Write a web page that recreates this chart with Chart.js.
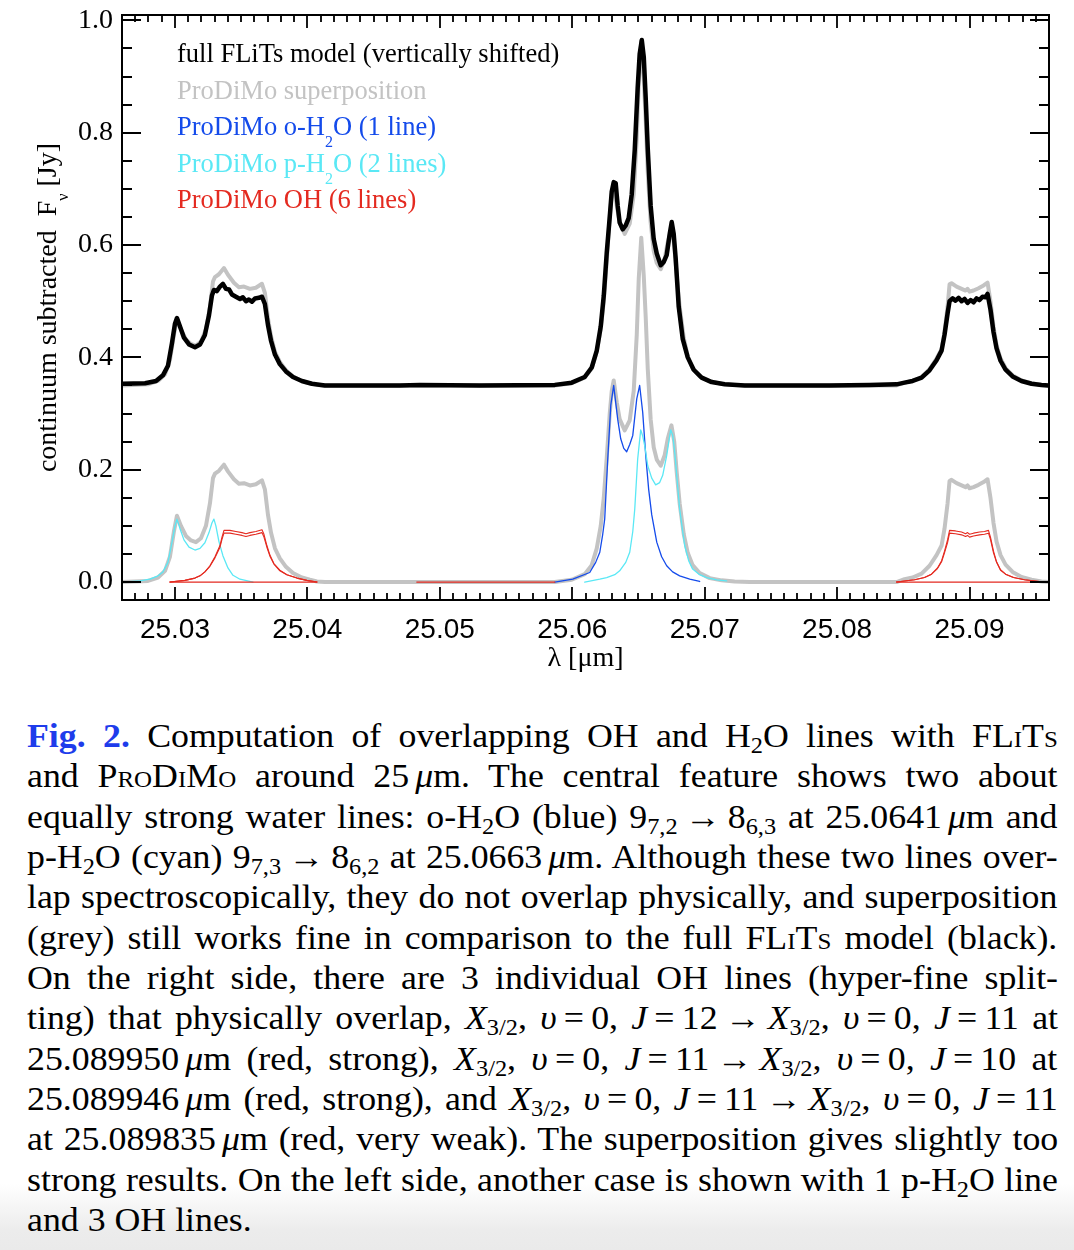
<!DOCTYPE html>
<html lang="en">
<head>
<meta charset="UTF-8" />
<title>Fig. 2 - overlapping OH and H2O lines</title>
<script src="https://cdn.jsdelivr.net/npm/chart.js"></script>
<style>
  html, body { margin: 0; padding: 0; background: #fff; }
  body { width: 1074px; height: 1250px; position: relative; overflow: hidden; }
  #shade { position: absolute; left: 0; right: 0; bottom: 0; height: 66px;
           background: linear-gradient(to bottom, rgba(235,235,235,0), #ececec 70%, #eaeaea); }
  #plot { position: absolute; left: 0; top: 0; }
  /* the printed caption is slightly wider than plain Times, hence the scaleX */
  #caption { position: absolute; left: 27px; top: 716px; width: 950px;
             transform: scaleX(1.085); transform-origin: 0 0;
             font-family: "Liberation Serif", "Times New Roman", serif;
             font-size: 33px; line-height: 40.33px; color: #000; }
  .ln { white-space: nowrap; height: 40.33px; }
  .ln > span { display: inline-block; }
  .fig { color: #1e3ceb; font-weight: bold; }
  .sc { font-variant: small-caps; }
  sub { font-size: 68%; vertical-align: -0.28em; line-height: 0; }
  .rel { padding: 0 0.2em; }
  .th { padding-left: 0.17em; }
</style>
</head>
<body>
<div id="shade"></div>
<canvas id="plot" width="1074" height="690"></canvas>

<div id="caption">
<div class="ln"><span><b class="fig">Fig. 2.</b> Computation of overlapping OH and H<sub>2</sub>O lines with <span class="sc">FLiTs</span></span></div>
<div class="ln"><span>and <span class="sc">ProDiMo</span> around 25<span class="th"></span><i>μ</i>m. The central feature shows two about</span></div>
<div class="ln"><span>equally strong water lines: o-H<sub>2</sub>O (blue) 9<sub>7,2</sub><span class="rel">→</span>8<sub>6,3</sub> at 25.0641<span class="th"></span><i>μ</i>m and</span></div>
<div class="ln"><span>p-H<sub>2</sub>O (cyan) 9<sub>7,3</sub><span class="rel">→</span>8<sub>6,2</sub> at 25.0663<span class="th"></span><i>μ</i>m. Although these two lines over-</span></div>
<div class="ln"><span>lap spectroscopically, they do not overlap physically, and superposition</span></div>
<div class="ln"><span>(grey) still works fine in comparison to the full <span class="sc">FLiTs</span> model (black).</span></div>
<div class="ln"><span>On the right side, there are 3 individual OH lines (hyper-fine split-</span></div>
<div class="ln"><span>ting) that physically overlap, <i>X</i><sub>3/2</sub>, <i>υ</i><span class="rel">=</span>0, <i>J</i><span class="rel">=</span>12<span class="rel">→</span><i>X</i><sub>3/2</sub>, <i>υ</i><span class="rel">=</span>0, <i>J</i><span class="rel">=</span>11 at</span></div>
<div class="ln"><span>25.089950<span class="th"></span><i>μ</i>m (red, strong), <i>X</i><sub>3/2</sub>, <i>υ</i><span class="rel">=</span>0, <i>J</i><span class="rel">=</span>11<span class="rel">→</span><i>X</i><sub>3/2</sub>, <i>υ</i><span class="rel">=</span>0, <i>J</i><span class="rel">=</span>10 at</span></div>
<div class="ln"><span>25.089946<span class="th"></span><i>μ</i>m (red, strong), and <i>X</i><sub>3/2</sub>, <i>υ</i><span class="rel">=</span>0, <i>J</i><span class="rel">=</span>11<span class="rel">→</span><i>X</i><sub>3/2</sub>, <i>υ</i><span class="rel">=</span>0, <i>J</i><span class="rel">=</span>11</span></div>
<div class="ln"><span>at 25.089835<span class="th"></span><i>μ</i>m (red, very weak). The superposition gives slightly too</span></div>
<div class="ln"><span>strong results. On the left side, another case is shown with 1 p-H<sub>2</sub>O line</span></div>
<div class="ln last"><span>and 3 OH lines.</span></div>
</div>

<script>
// axes
const xRange = [25.0260, 25.0960];
const yRange = [-0.032, 1.0096];
const xTicks = [25.03, 25.04, 25.05, 25.06, 25.07, 25.08, 25.09];
const yTicks = [0.0, 0.2, 0.4, 0.6, 0.8, 1.0];
const xMinor = 0.001;
const yMinor = 0.05;
const shift = 0.35;   // FLiTs model and its comparison curve are moved up by this

// ProDiMo superposition (grey)
const greyWl = [25.02600, 25.02796, 25.02872, 25.02925, 25.02962, 25.02992, 25.03015, 25.03045, 25.03083, 25.03121,
  25.03158, 25.03196, 25.03234, 25.03264, 25.03287, 25.03302, 25.03332, 25.03370, 25.03400, 25.03445,
  25.03483, 25.03521, 25.03566, 25.03611, 25.03657, 25.03679, 25.03702, 25.03725, 25.03755, 25.03792,
  25.03838, 25.03891, 25.03958, 25.04019, 25.04072, 25.04132,
  25.05868, 25.05996, 25.06094, 25.06147, 25.06185, 25.06215, 25.06238, 25.06260, 25.06283, 25.06298,
  25.06313, 25.06336, 25.06358, 25.06396, 25.06434, 25.06464, 25.06487, 25.06502, 25.06521, 25.06540,
  25.06555, 25.06570, 25.06592, 25.06615, 25.06638, 25.06668, 25.06698, 25.06721, 25.06749, 25.06770,
  25.06789, 25.06811, 25.06842, 25.06872, 25.06909, 25.06962, 25.07038, 25.07128, 25.07226, 25.07340,
  25.08449, 25.08509, 25.08570, 25.08638, 25.08698, 25.08751, 25.08789, 25.08811, 25.08834, 25.08849,
  25.08864, 25.08902, 25.08940, 25.08970, 25.08985, 25.09000, 25.09030, 25.09068, 25.09106, 25.09136,
  25.09158, 25.09181, 25.09204, 25.09234, 25.09272, 25.09325, 25.09392, 25.09468, 25.09543, 25.09596];
const greyFl = [0.000, 0.002, 0.008, 0.020, 0.045, 0.090, 0.118, 0.100, 0.082, 0.074,
  0.071, 0.078, 0.100, 0.140, 0.185, 0.193, 0.198, 0.209, 0.197, 0.183,
  0.175, 0.176, 0.172, 0.174, 0.181, 0.165, 0.120, 0.088, 0.060, 0.042,
  0.027, 0.016, 0.008, 0.004, 0.001, 0.000,
  0.000, 0.004, 0.014, 0.030, 0.060, 0.100, 0.150, 0.220, 0.300, 0.340,
  0.359, 0.320, 0.290, 0.270, 0.288, 0.340, 0.440, 0.540, 0.613, 0.545,
  0.470, 0.380, 0.290, 0.240, 0.218, 0.207, 0.226, 0.255, 0.279, 0.250,
  0.195, 0.140, 0.085, 0.052, 0.030, 0.016, 0.007, 0.003, 0.001, 0.000,
  0.000, 0.005, 0.008, 0.015, 0.029, 0.048, 0.065, 0.095, 0.140, 0.180,
  0.182, 0.176, 0.172, 0.169, 0.172, 0.167, 0.169, 0.173, 0.178, 0.183,
  0.150, 0.105, 0.072, 0.048, 0.031, 0.018, 0.009, 0.004, 0.001, 0.000];

// full FLiTs model (black), before the vertical shift
const flitsWl = [25.02600, 25.02774, 25.02857, 25.02909, 25.02947, 25.02977, 25.03000, 25.03015, 25.03038, 25.03068,
  25.03106, 25.03151, 25.03189, 25.03226, 25.03257, 25.03279, 25.03294, 25.03317, 25.03340, 25.03362,
  25.03385, 25.03408, 25.03430, 25.03460, 25.03491, 25.03513, 25.03536, 25.03558, 25.03581, 25.03604,
  25.03634, 25.03657, 25.03679, 25.03702, 25.03725, 25.03755, 25.03792, 25.03838, 25.03891, 25.03958,
  25.04034, 25.04132, 25.04698, 25.04849, 25.05302,
  25.05868, 25.05996, 25.06094, 25.06147, 25.06185, 25.06215, 25.06238, 25.06260, 25.06283, 25.06298,
  25.06313, 25.06328, 25.06343, 25.06358, 25.06381, 25.06404, 25.06426, 25.06449, 25.06472, 25.06494,
  25.06509, 25.06525, 25.06540, 25.06555, 25.06570, 25.06592, 25.06615, 25.06638, 25.06668, 25.06691,
  25.06713, 25.06736, 25.06751, 25.06766, 25.06781, 25.06804, 25.06834, 25.06872, 25.06917, 25.06977,
  25.07053, 25.07151, 25.07302, 25.07943, 25.08245,
  25.08449, 25.08509, 25.08570, 25.08638, 25.08698, 25.08751, 25.08789, 25.08811, 25.08834, 25.08849,
  25.08872, 25.08894, 25.08917, 25.08940, 25.08962, 25.08985, 25.09008, 25.09030, 25.09053, 25.09075,
  25.09098, 25.09121, 25.09136, 25.09158, 25.09181, 25.09204, 25.09234, 25.09272, 25.09325, 25.09392,
  25.09468, 25.09543, 25.09596];
const flitsFl = [0.003, 0.004, 0.008, 0.018, 0.035, 0.075, 0.110, 0.120, 0.105, 0.085,
  0.073, 0.068, 0.073, 0.090, 0.125, 0.160, 0.170, 0.168, 0.176, 0.181,
  0.172, 0.171, 0.162, 0.158, 0.154, 0.157, 0.150, 0.153, 0.149, 0.155,
  0.156, 0.158, 0.145, 0.108, 0.080, 0.055, 0.038, 0.025, 0.015, 0.008,
  0.003, 0.000, 0.000, 0.001, 0.000,
  0.001, 0.005, 0.015, 0.032, 0.062, 0.105, 0.160, 0.235, 0.300, 0.345,
  0.362, 0.360, 0.320, 0.290, 0.278, 0.285, 0.298, 0.340, 0.420, 0.530,
  0.590, 0.615, 0.585, 0.510, 0.422, 0.320, 0.261, 0.235, 0.214, 0.220,
  0.232, 0.270, 0.291, 0.270, 0.226, 0.140, 0.083, 0.050, 0.028, 0.014,
  0.006, 0.002, 0.000, 0.000, 0.001,
  0.002, 0.005, 0.008, 0.014, 0.027, 0.045, 0.062, 0.090, 0.128, 0.150,
  0.155, 0.151, 0.156, 0.150, 0.154, 0.147, 0.152, 0.148, 0.155, 0.152,
  0.158, 0.157, 0.163, 0.135, 0.095, 0.066, 0.044, 0.028, 0.016, 0.008,
  0.003, 0.001, 0.000];

// ProDiMo o-H2O, 1 line (blue)
const oH2OWl = [25.05868, 25.06004, 25.06132, 25.06177, 25.06208, 25.06230, 25.06245, 25.06268, 25.06291, 25.06313,
  25.06328, 25.06343, 25.06366, 25.06389, 25.06411, 25.06434, 25.06457, 25.06487, 25.06509, 25.06532,
  25.06555, 25.06577, 25.06600, 25.06638, 25.06675, 25.06713, 25.06758, 25.06811, 25.06887, 25.06962];
const oH2OFl = [0.000, 0.005, 0.017, 0.035, 0.053, 0.085, 0.112, 0.219, 0.315, 0.350,
  0.320, 0.290, 0.255, 0.238, 0.232, 0.245, 0.261, 0.326, 0.350, 0.302,
  0.225, 0.165, 0.120, 0.071, 0.045, 0.029, 0.018, 0.011, 0.005, 0.001];

// ProDiMo p-H2O, line at 25.03 (cyan)
const pH2OLeftWl = [25.02600, 25.02736, 25.02811, 25.02872, 25.02909, 25.02947, 25.02977, 25.03000, 25.03015, 25.03038,
  25.03068, 25.03106, 25.03151, 25.03189, 25.03226, 25.03257, 25.03279, 25.03294, 25.03309, 25.03332,
  25.03362, 25.03400, 25.03438, 25.03491, 25.03589];
const pH2OLeftFl = [0.000, 0.002, 0.005, 0.011, 0.018, 0.035, 0.070, 0.100, 0.112, 0.095,
  0.075, 0.062, 0.057, 0.060, 0.070, 0.088, 0.105, 0.112, 0.100, 0.072,
  0.047, 0.025, 0.012, 0.005, 0.000];

// ProDiMo p-H2O, line at 25.0663 (cyan)
const pH2OMidWl = [25.06094, 25.06208, 25.06260, 25.06321, 25.06358, 25.06404, 25.06434, 25.06457, 25.06472, 25.06494,
  25.06517, 25.06532, 25.06547, 25.06570, 25.06600, 25.06630, 25.06660, 25.06683, 25.06713, 25.06743,
  25.06758, 25.06774, 25.06796, 25.06811, 25.06834, 25.06849, 25.06879, 25.06909, 25.06962, 25.07015,
  25.07091, 25.07166];
const pH2OMidFl = [0.000, 0.005, 0.008, 0.013, 0.020, 0.035, 0.053, 0.090, 0.130, 0.219,
  0.271, 0.260, 0.243, 0.207, 0.185, 0.173, 0.177, 0.190, 0.225, 0.271,
  0.262, 0.231, 0.170, 0.130, 0.090, 0.065, 0.038, 0.023, 0.013, 0.008,
  0.004, 0.002];

// ProDiMo OH (red): two strong lines on each side, plus weak lines at ~0
const ohLeftWl = [25.02962, 25.03075, 25.03151, 25.03189, 25.03226, 25.03264, 25.03302, 25.03340, 25.03355, 25.03370,
  25.03415, 25.03460, 25.03506, 25.03536, 25.03566, 25.03611, 25.03657, 25.03672, 25.03694, 25.03717,
  25.03747, 25.03792, 25.03845, 25.03921, 25.03996, 25.04072];
const ohLeftA = [0.000, 0.003, 0.007, 0.011, 0.018, 0.029, 0.045, 0.065, 0.080, 0.092,
  0.092, 0.090, 0.088, 0.086, 0.088, 0.090, 0.093, 0.085, 0.065, 0.048,
  0.033, 0.021, 0.013, 0.007, 0.003, 0.000];
const ohLeftB = [0.000, 0.003, 0.007, 0.011, 0.018, 0.028, 0.043, 0.062, 0.076, 0.087,
  0.087, 0.085, 0.083, 0.081, 0.083, 0.085, 0.088, 0.080, 0.062, 0.046,
  0.032, 0.020, 0.013, 0.007, 0.003, 0.000];
const ohRightWl = [25.08449, 25.08585, 25.08660, 25.08713, 25.08758, 25.08789, 25.08811, 25.08834, 25.08849, 25.08894,
  25.08940, 25.08970, 25.08985, 25.09000, 25.09030, 25.09075, 25.09113, 25.09143, 25.09158, 25.09181,
  25.09204, 25.09234, 25.09272, 25.09332, 25.09415, 25.09528, 25.09566];
const ohRightA = [0.000, 0.004, 0.008, 0.014, 0.025, 0.038, 0.055, 0.075, 0.092, 0.091,
  0.089, 0.086, 0.088, 0.085, 0.087, 0.089, 0.090, 0.092, 0.080, 0.055,
  0.036, 0.022, 0.014, 0.008, 0.004, 0.001, 0.000];
const ohRightB = [0.000, 0.004, 0.008, 0.014, 0.024, 0.036, 0.052, 0.070, 0.087, 0.086,
  0.084, 0.081, 0.083, 0.080, 0.082, 0.084, 0.085, 0.087, 0.076, 0.052,
  0.035, 0.021, 0.014, 0.008, 0.004, 0.001, 0.000];
const ohWeakWl = [[25.02962, 25.04072], [25.04826, 25.05868], [25.08449, 25.09566]];
const ohWeakFl = [[0.000, 0.000], [0.000, 0.000], [0.000, 0.000]];

const BLACK = '#000000', GREY = '#c3c3c3', BLUE = '#144beb', CYAN = '#5ae8f5', RED = '#e42a20';

const pts = (wl, fl, dy = 0) => wl.map((w, i) => ({ x: w, y: fl[i] + dy }));
const curve = (data, color, width, order) => ({
  data, borderColor: color, borderWidth: width, pointRadius: 0, tension: 0,
  fill: false, order, borderJoinStyle: 'round', borderCapStyle: 'round'
});

const datasets = [
  curve(pts(flitsWl, flitsFl, shift), BLACK, 4.5, 1),
  curve(pts(ohLeftWl, ohLeftA), RED, 1.1, 2),
  curve(pts(ohLeftWl, ohLeftB), RED, 1.1, 2),
  curve(pts(ohRightWl, ohRightA), RED, 1.1, 2),
  curve(pts(ohRightWl, ohRightB), RED, 1.1, 2),
  ...ohWeakWl.map((wl, i) => curve(pts(wl, ohWeakFl[i]), RED, 1.2, 2)),
  curve(pts(pH2OLeftWl, pH2OLeftFl), CYAN, 1.3, 3),
  curve(pts(pH2OMidWl, pH2OMidFl), CYAN, 1.3, 3),
  curve(pts(oH2OWl, oH2OFl), BLUE, 1.3, 4),
  curve(pts(greyWl, greyFl, shift), GREY, 4, 5),
  curve(pts(greyWl, greyFl), GREY, 4, 5)
];

const legendRows = [
  { color: BLACK, runs: [['full FLiTs model (vertically shifted)']] },
  { color: GREY,  runs: [['ProDiMo superposition']] },
  { color: BLUE,  runs: [['ProDiMo o-H'], ['2', 1], ['O (1 line)']] },
  { color: CYAN,  runs: [['ProDiMo p-H'], ['2', 1], ['O (2 lines)']] },
  { color: RED,   runs: [['ProDiMo OH (6 lines)']] }
];

const SERIF = '"Liberation Serif", "Times New Roman", serif';

// writes text runs; a run flagged 1 is a lowered subscript
function drawRuns(ctx, runs, x, y, size, subSize, subDrop) {
  for (const [t, sub] of runs) {
    ctx.font = (sub ? subSize : size) + 'px ' + SERIF;
    ctx.fillText(t, x, sub ? y + subDrop : y);
    x += ctx.measureText(t).width;
  }
}
function runsWidth(ctx, runs, size, subSize) {
  let w = 0;
  for (const [t, sub] of runs) {
    ctx.font = (sub ? subSize : size) + 'px ' + SERIF;
    w += ctx.measureText(t).width;
  }
  return w;
}

const idlFrame = {
  id: 'idlFrame',
  afterDatasetsDraw(chart) {
    const { ctx, chartArea: a, scales: { x, y } } = chart;
    ctx.save();
    ctx.strokeStyle = '#000';
    ctx.lineWidth = 2;
    ctx.strokeRect(a.left, a.top, a.right - a.left, a.bottom - a.top);

    ctx.lineWidth = 1.8;
    ctx.beginPath();
    const nx0 = Math.ceil(xRange[0] / xMinor - 1e-6), nx1 = Math.floor(xRange[1] / xMinor + 1e-6);
    for (let k = nx0; k <= nx1; k++) {
      const v = k * xMinor;
      const major = xTicks.some(t => Math.abs(t - v) < 1e-7);
      const len = major ? 13 : 7;
      const px = Math.round(x.getPixelForValue(v));
      ctx.moveTo(px, a.bottom); ctx.lineTo(px, a.bottom - len);
      ctx.moveTo(px, a.top); ctx.lineTo(px, a.top + len);
    }
    const ny0 = Math.ceil(yRange[0] / yMinor - 1e-6), ny1 = Math.floor(yRange[1] / yMinor + 1e-6);
    for (let k = ny0; k <= ny1; k++) {
      const v = k * yMinor;
      const major = yTicks.some(t => Math.abs(t - v) < 1e-7);
      const len = major ? 19 : 10;
      const py = Math.round(y.getPixelForValue(v));
      ctx.moveTo(a.left, py); ctx.lineTo(a.left + len, py);
      ctx.moveTo(a.right, py); ctx.lineTo(a.right - len, py);
    }
    ctx.stroke();
    ctx.restore();
  },
  afterDraw(chart) {
    const { ctx, chartArea: a } = chart;
    ctx.save();
    ctx.textBaseline = 'alphabetic';
    ctx.textAlign = 'left';

    // legend
    legendRows.forEach((row, i) => {
      ctx.fillStyle = row.color;
      drawRuns(ctx, row.runs, 177, 62 + i * 36.5, 26.5, 16, 12);
    });

    // x title
    ctx.fillStyle = '#000';
    ctx.font = '28px ' + SERIF;
    ctx.textAlign = 'center';
    ctx.fillText('λ [μm]', (a.left + a.right) / 2, 666);

    // y title, rotated
    ctx.textAlign = 'left';
    const yRuns = [['continuum subtracted  F'], ['ν', 1], [' [Jy]']];
    const w = runsWidth(ctx, yRuns, 28, 16);
    ctx.translate(56, (a.top + a.bottom) / 2);
    ctx.rotate(-Math.PI / 2);
    drawRuns(ctx, yRuns, -w / 2, 0, 28, 16, 12);
    ctx.restore();
  }
};

new Chart(document.getElementById('plot'), {
  type: 'line',
  data: { datasets },
  options: {
    responsive: false,
    animation: false,
    devicePixelRatio: 1,
    layout: { padding: { left: 0, right: 25, top: 15, bottom: 0 } },
    plugins: { legend: { display: false }, tooltip: { enabled: false } },
    scales: {
      x: {
        type: 'linear', min: xRange[0], max: xRange[1],
        grid: { display: false, drawTicks: false }, border: { display: false },
        ticks: {
          color: '#000', padding: 13,
          font: { family: '"Liberation Sans", Arial, sans-serif', size: 28 },
          callback: v => v.toFixed(2)
        },
        afterBuildTicks: s => { s.ticks = xTicks.map(v => ({ value: v })); },
        afterFit: s => { s.height = 90; s.paddingLeft = 0; s.paddingRight = 0; }
      },
      y: {
        type: 'linear', min: yRange[0], max: yRange[1],
        grid: { display: false, drawTicks: false }, border: { display: false },
        ticks: {
          color: '#000', padding: 9,
          font: { family: SERIF, size: 28 },
          callback: v => v.toFixed(1)
        },
        afterBuildTicks: s => { s.ticks = yTicks.map(v => ({ value: v })); },
        afterFit: s => { s.width = 122; s.paddingTop = 0; s.paddingBottom = 0; }
      }
    }
  },
  plugins: [idlFrame]
});

// justify each caption line to the full width, as in the printed figure
function justify() {
  const cap = document.getElementById('caption');
  const full = cap.clientWidth;
  cap.querySelectorAll('.ln:not(.last) > span').forEach(s => {
    s.style.wordSpacing = '0px';
    const gaps = (s.textContent.match(/ /g) || []).length;
    const extra = full - s.offsetWidth;
    if (gaps) s.style.wordSpacing = (extra / gaps) + 'px';
  });
}
justify();
if (document.fonts) document.fonts.ready.then(justify);
</script>
</body>
</html>
